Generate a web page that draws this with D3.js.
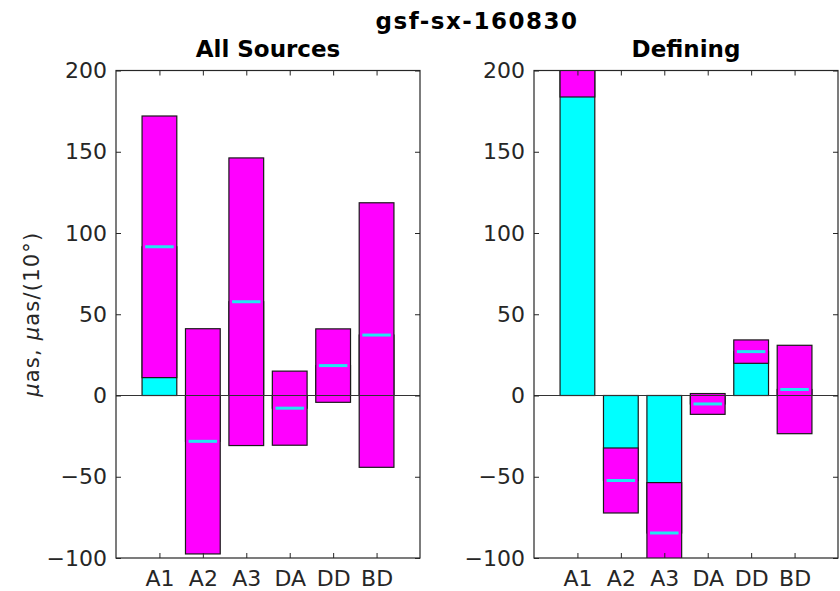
<!DOCTYPE html>
<html>
<head>
<meta charset="utf-8">
<script src="https://cdn.jsdelivr.net/npm/d3@7"></script>
<style>
  body { margin: 0; background: #fff; }
  svg { font-family: "DejaVu Sans", sans-serif; }
</style>
</head>
<body>
<svg id="chart" width="840" height="591"></svg>
<script>
const categories = ["A1", "A2", "A3", "DA", "DD", "BD"];

// all sources: estimate and its sigma
const allValues = [91.5, -28.2, 57.7, -7.8, 18.4, 37.2];
const allSigmas = [80.5, 69.3, 88.5, 22.8, 22.6, 81.4];

// defining sources
const defValues = [245, -52.3, -84.6, -5.2, 27.0, 3.7];
const defSigmas = [61.3, 20.0, 31.0, 6.4, 7.2, 27.2];

const yTicks = [-100, -50, 0, 50, 100, 150, 200];

const svg = d3.select("#chart");
const textColor = "#262626";

const y = d3.scaleLinear().domain([-100, 200]).range([558, 70.5]);

svg.append("text")
    .attr("x", 477).attr("y", 29)
    .attr("text-anchor", "middle")
    .attr("font-size", 23).attr("font-weight", "bold")
    .attr("letter-spacing", 1.5)
    .attr("fill", "#000")
    .text("gsf-sx-160830");

function drawPanel(id, left, right, title, values, sigmas) {
    const x = d3.scaleLinear().domain([0, 7]).range([left, right]);
    const bw = (x(1) - x(0)) * 0.8;
    const g = svg.append("g");

    g.append("clipPath").attr("id", "clip-" + id)
        .append("rect")
        .attr("x", left).attr("y", y(200))
        .attr("width", right - left).attr("height", y(-100) - y(200));

    const plot = g.append("g").attr("clip-path", `url(#clip-${id})`);
    const rows = values.map((v, i) => ({ i: i + 1, v: v, s: sigmas[i] }));

    plot.selectAll("rect.val")
        .data(rows).enter().append("rect")
        .attr("class", "val")
        .attr("x", d => x(d.i) - bw / 2)
        .attr("width", bw)
        .attr("y", d => y(Math.max(0, d.v)))
        .attr("height", d => Math.abs(y(d.v) - y(0)))
        .attr("fill", "#00ffff")
        .attr("stroke", "#1a1a1a").attr("stroke-width", 1.2);

    plot.selectAll("rect.err")
        .data(rows).enter().append("rect")
        .attr("class", "err")
        .attr("x", d => x(d.i) - bw / 2)
        .attr("width", bw)
        .attr("y", d => y(d.v + d.s))
        .attr("height", d => y(d.v - d.s) - y(d.v + d.s))
        .attr("fill", "#ff00ff")
        .attr("stroke", "#1a1a1a").attr("stroke-width", 1.2);

    plot.selectAll("line.mid")
        .data(rows).enter().append("line")
        .attr("class", "mid")
        .attr("x1", d => x(d.i) - bw * 0.41)
        .attr("x2", d => x(d.i) + bw * 0.41)
        .attr("y1", d => y(d.v)).attr("y2", d => y(d.v))
        .attr("stroke", "#22e6f2").attr("stroke-width", 3);

    plot.append("line")
        .attr("x1", left).attr("x2", right)
        .attr("y1", y(0)).attr("y2", y(0))
        .attr("stroke", "#333").attr("stroke-width", 1);

    // axes, MATLAB style box with inward ticks
    const styleAxis = sel => {
        sel.select(".domain").remove();
        sel.selectAll("line").attr("stroke", textColor);
        sel.selectAll("text").attr("fill", textColor).attr("font-size", 22)
            .attr("font-family", "DejaVu Sans, sans-serif");
    };

    g.append("g").attr("transform", `translate(${left},0)`)
        .call(d3.axisLeft(y).tickValues(yTicks).tickSize(-5).tickPadding(9).tickFormat(d3.format("d")))
        .call(styleAxis);
    g.append("g").attr("transform", `translate(${right},0)`)
        .call(d3.axisRight(y).tickValues(yTicks).tickSize(-5).tickFormat(""))
        .call(styleAxis);
    g.append("g").attr("transform", `translate(0,${y(-100)})`)
        .call(d3.axisBottom(x).tickValues(d3.range(1, 7)).tickSize(-5).tickPadding(12)
            .tickFormat(d => categories[d - 1]))
        .call(styleAxis);
    g.append("g").attr("transform", `translate(0,${y(200)})`)
        .call(d3.axisTop(x).tickValues(d3.range(1, 7)).tickSize(-5).tickFormat(""))
        .call(styleAxis);

    g.append("rect")
        .attr("x", left).attr("y", y(200))
        .attr("width", right - left).attr("height", y(-100) - y(200))
        .attr("fill", "none").attr("stroke", textColor).attr("stroke-width", 1.2);

    g.append("text")
        .attr("x", (left + right) / 2).attr("y", 57)
        .attr("text-anchor", "middle")
        .attr("font-size", 23).attr("font-weight", "bold")
        .attr("fill", "#000")
        .text(title);
}

drawPanel("all", 116, 420, "All Sources", allValues, allSigmas);
drawPanel("def", 534, 838, "Defining", defValues, defSigmas);

const ylab = svg.append("text")
    .attr("transform", `translate(39,${y(50)}) rotate(-90)`)
    .attr("text-anchor", "middle")
    .attr("font-size", 21)
    .attr("letter-spacing", 1.2)
    .attr("fill", textColor);
ylab.append("tspan").attr("font-style", "italic").text("μ");
ylab.append("tspan").text("as, ");
ylab.append("tspan").attr("font-style", "italic").text("μ");
ylab.append("tspan").text("as/(10°)");
</script>
</body>
</html>
